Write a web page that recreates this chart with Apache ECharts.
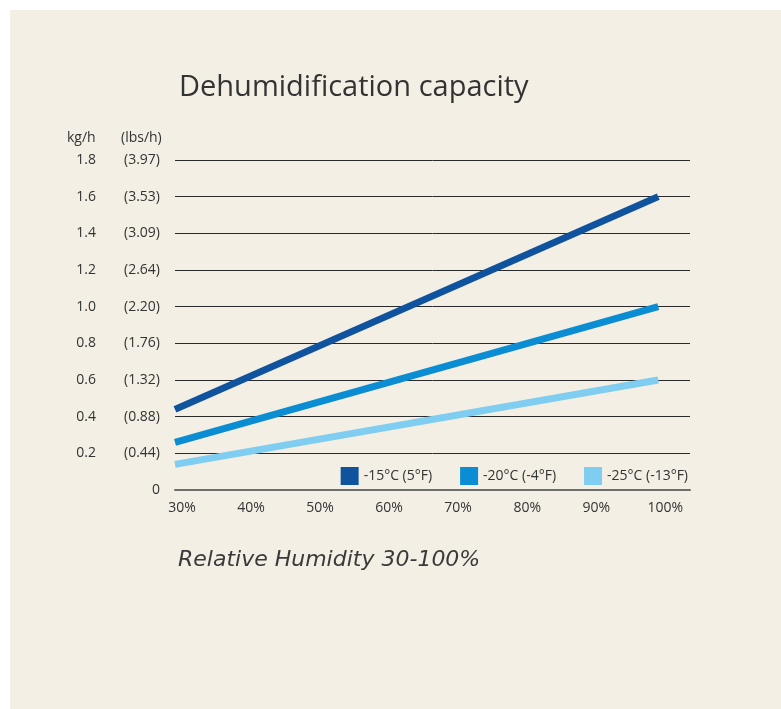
<!DOCTYPE html>
<html>
<head>
<meta charset="utf-8">
<script src="https://cdn.jsdelivr.net/npm/echarts@6/dist/echarts.min.js"></script>
<style>
  html, body { margin: 0; padding: 0; background: #ffffff; }
  #main { position: absolute; left: 10px; top: 10px; width: 771px; height: 699px; }
</style>
</head>
<body>
<div id="main"></div>
<script>
// relative humidity (%)
const humidity = [30, 100]
// capacity kg/h per temperature
const capMinus15 = [0.44, 1.60]
const capMinus20 = [0.26, 1.00]
const capMinus25 = [0.14, 0.60]
const seriesNames = ['-15°C (5°F)', '-20°C (-4°F)', '-25°C (-13°F)']
// tick labels
const xTicks = [30, 40, 50, 60, 70, 80, 90, 100]
const lbsTicks = ['0', '0.44', '0.88', '1.32', '1.76', '2.20', '2.64', '3.09', '3.53', '3.97']

const colors = ['#0f529e', '#0a8dd2', '#7fcdf1']
const font = '"Open Sans", sans-serif'
const wideFont = '"DejaVu Sans", sans-serif'

const pairs = (ys) => humidity.map((x, i) => [x, ys[i]])

const option = {
  backgroundColor: '#f4efe4',
  textStyle: { fontFamily: font },
  title: [
    {
      text: 'Dehumidification capacity',
      left: 164, top: 58,
      textStyle: { fontFamily: font, fontSize: 29, fontWeight: 500, color: '#333333' }
    },
    {
      text: 'kg/h',
      left: 52, top: 116,
      textStyle: { fontFamily: font, fontSize: 14, fontWeight: 'normal', color: '#333333' }
    },
    {
      text: '(lbs/h)',
      left: 106, top: 116,
      textStyle: { fontFamily: font, fontSize: 14, fontWeight: 'normal', color: '#333333' }
    },
    {
      text: 'Relative Humidity 30-100%',
      left: 163, top: 534,
      textStyle: { fontFamily: wideFont, fontSize: 22, fontWeight: 'normal', fontStyle: 'italic', color: '#3a3a3a' }
    }
  ],
  legend: {
    data: seriesNames,
    right: 88, top: 452,
    icon: 'rect',
    itemWidth: 18, itemHeight: 18,
    itemGap: 28,
    textStyle: { fontFamily: font, fontSize: 14, color: '#333333' }
  },
  grid: { left: 165, right: 91, top: 150, bottom: 219 },
  xAxis: {
    type: 'value',
    min: 30,
    max: 104.6,
    axisLine: { show: true, lineStyle: { color: '#6e6e6e', width: 2 } },
    axisTick: { show: false },
    splitLine: { show: false },
    axisLabel: {
      customValues: xTicks,
      formatter: (v) => v + '%',
      margin: 11,
      padding: [0, 0, 0, 14],
      fontFamily: font, fontSize: 14, color: '#333333'
    }
  },
  yAxis: {
    type: 'value',
    min: 0,
    max: 1.8,
    interval: 0.2,
    axisLine: { show: false },
    axisTick: { show: false },
    splitLine: { lineStyle: { color: '#2a2a2a', width: 1 } },
    axisLabel: {
      margin: 15,
      formatter: (v) => {
        const i = Math.round(v / 0.2)
        if (i === 0) return '{b|0}'
        return '{a|' + v.toFixed(1) + '}{b|(' + lbsTicks[i] + ')}'
      },
      rich: {
        a: { width: 36, align: 'right', fontFamily: font, fontSize: 14, color: '#333333' },
        b: { width: 64, align: 'right', fontFamily: font, fontSize: 14, color: '#333333' }
      }
    }
  },
  series: [capMinus15, capMinus20, capMinus25].map((d, i) => ({
    name: seriesNames[i],
    type: 'line',
    data: pairs(d),
    symbol: 'none',
    lineStyle: { width: 7, color: colors[i] },
    itemStyle: { color: colors[i] }
  }))
}

const chart = echarts.init(document.getElementById('main'))
chart.setOption(option)
</script>
</body>
</html>
